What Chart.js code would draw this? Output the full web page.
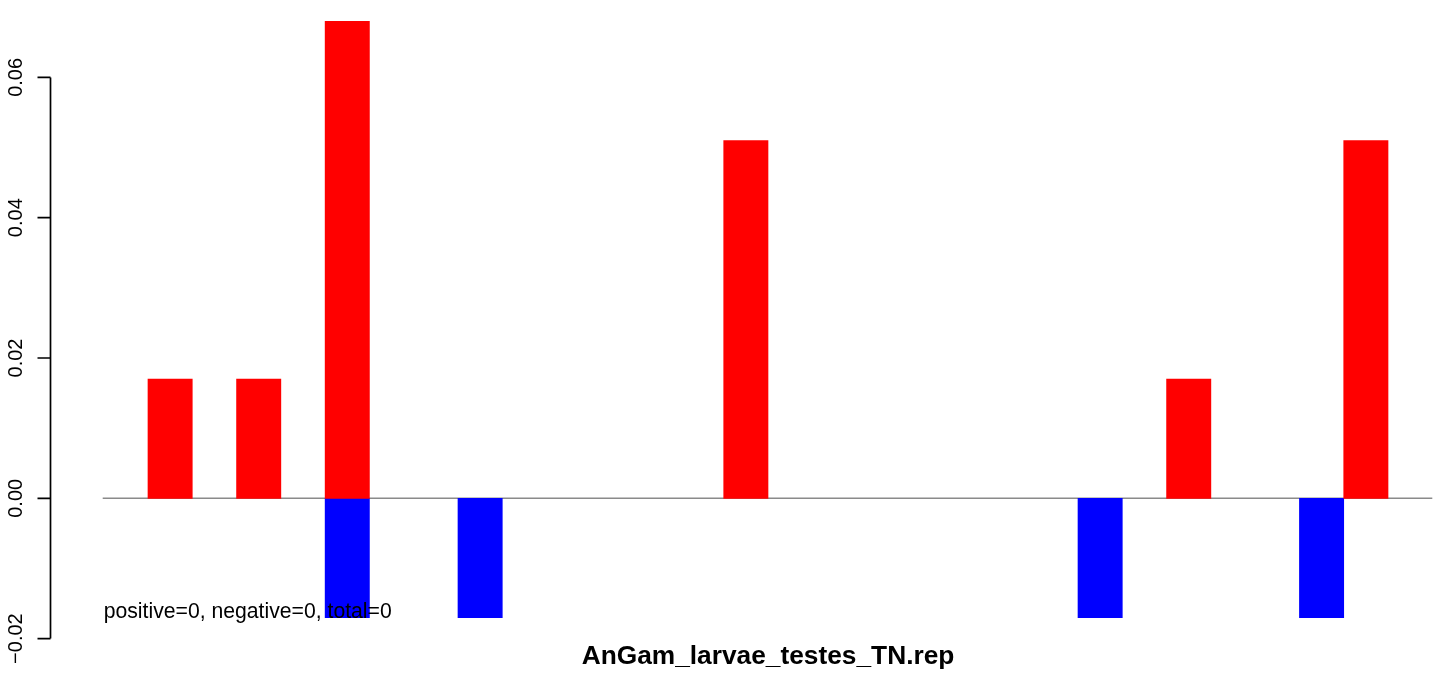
<!DOCTYPE html>
<html>
<head>
<meta charset="utf-8">
<script src="https://cdn.jsdelivr.net/npm/chart.js@4/dist/chart.umd.min.js"></script>
<style>
  body { margin: 0; background: #fff; }
  #wrap { width: 1444px; height: 677px; position: relative; }
</style>
</head>
<body>
<div id="wrap"><canvas id="bars"></canvas></div>
<script>
// 30 slots, only a few have values
var categories = [];
for (var i = 1; i <= 30; i++) categories.push(String(i));

var positive = [null, 0.017, null, 0.017, null, 0.068, null, null, null, null,
                null, null, null, null, 0.051, null, null, null, null, null,
                null, null, null, null, 0.017, null, null, null, 0.051, null];
var negative = [null, null, null, null, null, -0.017, null, null, -0.017, null,
                null, null, null, null, null, null, null, null, null, null,
                null, null, -0.017, null, null, null, null, -0.017, null, null];

var yTicks = [-0.02, 0, 0.02, 0.04, 0.06];
var yTickLabels = ["\u22120.02", "0.00", "0.02", "0.04", "0.06"];

var titleText = "AnGam_larvae_testes_TN.rep";
var noteText = "positive=0, negative=0, total=0";

var rAxis = {
	id: 'rAxis',
	beforeDatasetsDraw: function(chart) {
		var ctx = chart.ctx, y = chart.scales.y, a = chart.chartArea;
		var y0 = y.getPixelForValue(0);
		ctx.save();
		ctx.strokeStyle = '#8a8a8a';
		ctx.lineWidth = 1.5;
		ctx.beginPath();
		ctx.moveTo(a.left - 1, y0);
		ctx.lineTo(a.right, y0);
		ctx.stroke();
		ctx.restore();
	},
	afterDatasetsDraw: function(chart) {
		var ctx = chart.ctx, y = chart.scales.y, a = chart.chartArea;
		ctx.save();
		// y axis line and ticks
		var axX = 50.5;
		ctx.strokeStyle = '#000';
		ctx.lineWidth = 1.7;
		ctx.beginPath();
		ctx.moveTo(axX, y.getPixelForValue(yTicks[0]));
		ctx.lineTo(axX, y.getPixelForValue(yTicks[yTicks.length - 1]));
		for (var i = 0; i < yTicks.length; i++) {
			var py = y.getPixelForValue(yTicks[i]);
			ctx.moveTo(axX, py);
			ctx.lineTo(axX - 13, py);
		}
		ctx.stroke();

		ctx.fillStyle = '#000';
		ctx.font = '20px "Liberation Sans", Arial, sans-serif';
		ctx.textAlign = 'center';
		ctx.textBaseline = 'alphabetic';
		for (var j = 0; j < yTicks.length; j++) {
			var ty = y.getPixelForValue(yTicks[j]);
			ctx.save();
			ctx.translate(21.7, ty);
			ctx.rotate(-Math.PI / 2);
			ctx.fillText(yTickLabels[j], 0, 0);
			ctx.restore();
		}

		// note text at bottom left of plot
		ctx.font = '21.2px "Liberation Sans", Arial, sans-serif';
		ctx.textAlign = 'left';
		ctx.fillText(noteText, a.left, y.getPixelForValue(-0.017));

		// title underneath
		ctx.font = 'bold 26.3px "Liberation Sans", Arial, sans-serif';
		ctx.textAlign = 'center';
		ctx.fillText(titleText, (a.left + a.right) / 2, 663.5);
		ctx.restore();
	}
};

new Chart(document.getElementById('bars'), {
	type: 'bar',
	data: {
		labels: categories,
		datasets: [
			{
				label: 'positive',
				data: positive,
				backgroundColor: '#ff0000',
				borderWidth: 0,
				barPercentage: 1,
				categoryPercentage: 1
			},
			{
				label: 'negative',
				data: negative,
				backgroundColor: '#0000ff',
				borderWidth: 0,
				barPercentage: 1,
				categoryPercentage: 1
			}
		]
	},
	options: {
		responsive: true,
		maintainAspectRatio: false,
		animation: false,
		layout: { padding: { left: 103.7, right: 11.7, top: 0, bottom: 36 } },
		plugins: {
			legend: { display: false },
			tooltip: { enabled: false },
			title: { display: false }
		},
		scales: {
			x: { stacked: true, display: false, offset: true },
			y: { stacked: true, display: false, min: -0.02034, max: 0.07103 }
		}
	},
	plugins: [rAxis]
});
</script>
</body>
</html>
